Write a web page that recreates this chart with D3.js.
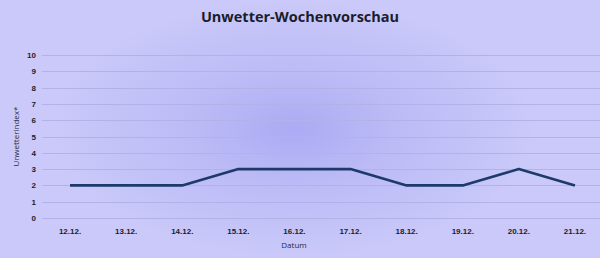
<!DOCTYPE html>
<html>
<head>
<meta charset="utf-8">
<script src="https://cdn.jsdelivr.net/npm/d3@7"></script>
<style>
  html, body { margin: 0; padding: 0; background: #c9c8f8; }
  svg { display: block; font-family: "Open Sans", "DejaVu Sans", sans-serif; }
</style>
</head>
<body>
<div id="chart"></div>
<script>
// data
const dates = ["12.12.", "13.12.", "14.12.", "15.12.", "16.12.", "17.12.", "18.12.", "19.12.", "20.12.", "21.12."];
const values = [2, 2, 2, 3, 3, 3, 2, 2, 3, 2];
const yTicks = [0, 1, 2, 3, 4, 5, 6, 7, 8, 9, 10];

const width = 600, height = 258;
const margin = { top: 55, right: -3, bottom: 40, left: 42 };

const svg = d3.select("#chart").append("svg")
  .attr("width", width)
  .attr("height", height);

// background with soft blue glow
const defs = svg.append("defs");
const grad = defs.append("radialGradient")
  .attr("id", "glow")
  .attr("cx", 0.49).attr("cy", 0.5)
  .attr("r", 0.5)
  .attr("gradientTransform", "translate(0.49,0.5) scale(0.8,1) translate(-0.49,-0.5)");
grad.append("stop").attr("offset", "0%").attr("stop-color", "#abaaf4");
grad.append("stop").attr("offset", "40%").attr("stop-color", "#bbbaf6");
grad.append("stop").attr("offset", "100%").attr("stop-color", "#cac9f9");

svg.append("rect").attr("width", width).attr("height", height).attr("fill", "#cac9f9");
svg.append("rect").attr("width", width).attr("height", height).attr("fill", "url(#glow)");

// scales
const x = d3.scaleBand()
  .domain(dates)
  .range([margin.left, width - margin.right]);

const y = d3.scaleLinear()
  .domain([0, 10])
  .range([height - margin.bottom, margin.top]);

// gridlines
svg.append("g")
  .selectAll("line")
  .data(yTicks)
  .join("line")
  .attr("x1", margin.left)
  .attr("x2", width - margin.right)
  .attr("y1", d => Math.round(y(d)) + 0.5)
  .attr("y2", d => Math.round(y(d)) + 0.5)
  .attr("stroke", "#b3b2e8")
  .attr("stroke-width", 1);

// y axis
const yAxis = d3.axisLeft(y).tickValues(yTicks).tickSize(0).tickPadding(6);
svg.append("g")
  .attr("transform", `translate(${margin.left},0)`)
  .call(yAxis)
  .call(g => g.select(".domain").remove())
  .selectAll("text")
  .attr("font-size", 8)
  .attr("font-weight", "bold")
  .attr("fill", "#1c1c30");

// x axis
const xAxis = d3.axisBottom(x).tickSize(0).tickPadding(10);
svg.append("g")
  .attr("transform", `translate(0,${height - margin.bottom})`)
  .call(xAxis)
  .call(g => g.select(".domain").attr("stroke", "#b3b2e8"))
  .selectAll("text")
  .attr("font-size", 8)
  .attr("font-weight", "bold")
  .attr("fill", "#1c1c30");

// line
const line = d3.line()
  .x((d, i) => x(dates[i]) + x.bandwidth() / 2)
  .y(d => y(d));

svg.append("path")
  .datum(values)
  .attr("fill", "none")
  .attr("stroke", "#1d3a6b")
  .attr("stroke-width", 2.6)
  .attr("stroke-linejoin", "round")
  .attr("d", line);

// title
svg.append("text")
  .attr("x", 300)
  .attr("y", 22)
  .attr("text-anchor", "middle")
  .attr("font-size", 14.5)
  .attr("font-weight", "bold")
  .attr("fill", "#1c1c2c")
  .text("Unwetter-Wochenvorschau");

// axis titles
svg.append("text")
  .attr("x", 294)
  .attr("y", 248)
  .attr("text-anchor", "middle")
  .attr("font-size", 8)
  .attr("fill", "#2a2a40")
  .text("Datum");

svg.append("text")
  .attr("transform", `translate(19,${(y(0) + y(10)) / 2}) rotate(-90)`)
  .attr("text-anchor", "middle")
  .attr("font-size", 8)
  .attr("fill", "#2a2a40")
  .text("Unwetterindex*");
</script>
</body>
</html>
